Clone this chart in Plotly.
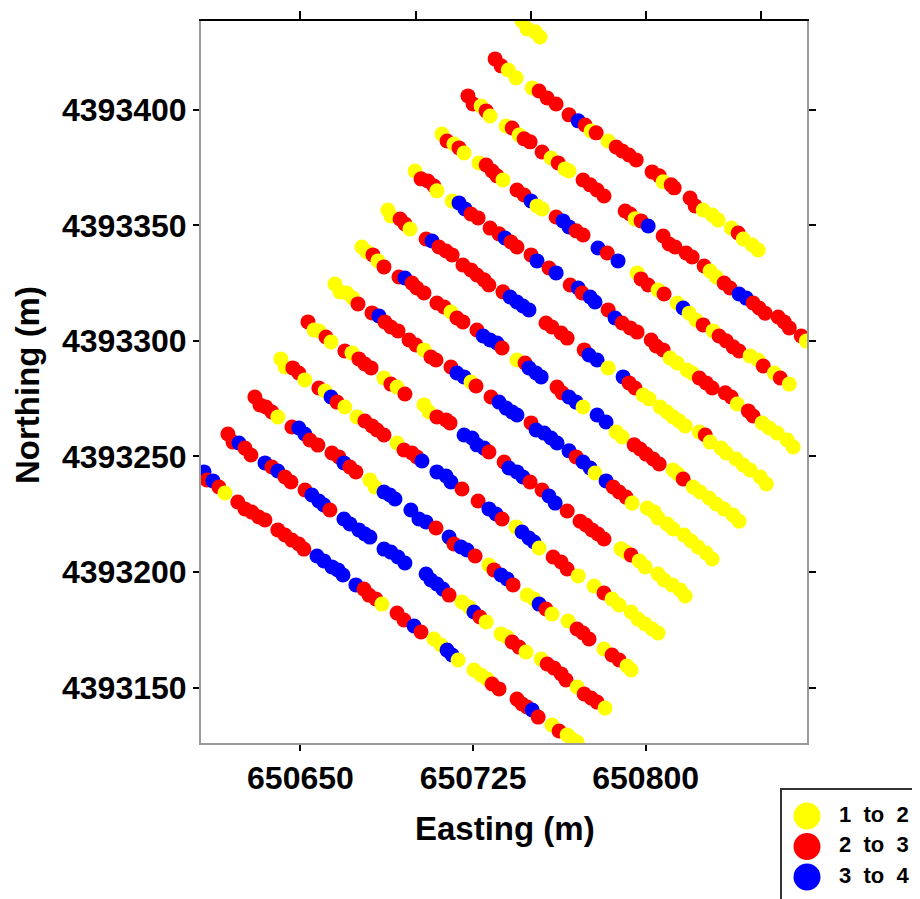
import plotly.graph_objects as go

# Class codes: Y = "1 to 2", R = "2 to 3", B = "3 to 4"
line01_e = [650746.3, 650748.5, 650752.0, 650754.1]
line01_n = [4393438.4, 4393435.0, 4393433.7, 4393431.5]
line01_c = "YYYY"

line02_e = [650734.6, 650737.2, 650740.3, 650743.7, 650750.7, 650753.7, 650757.2, 650761.1, 650766.7, 650770.7,
            650773.7, 650776.3, 650778.5, 650783.7, 650787.2, 650789.8, 650792.8, 650795.9, 650802.8, 650805.9,
            650807.6, 650811.1, 650812.4, 650819.3, 650821.5, 650825.0, 650828.9, 650831.5, 650837.2, 650840.2,
            650842.4, 650846.3, 650848.9]
line02_n = [4393422.0, 4393419.0, 4393417.2, 4393413.8, 4393409.4, 4393408.1, 4393405.1, 4393402.5, 4393397.8, 4393395.2,
            4393393.4, 4393390.8, 4393390.0, 4393386.5, 4393383.9, 4393382.2, 4393380.4, 4393378.3, 4393373.1, 4393371.4,
            4393368.8, 4393367.5, 4393366.2, 4393361.8, 4393358.4, 4393356.6, 4393354.5, 4393352.3, 4393348.8, 4393346.7,
            4393344.1, 4393341.5, 4393339.3]
line02_c = "RRYYY RRRRB RYRYR RRRRR YRRRR YYYYR YYY"

line03_e = [650722.8, 650725.0, 650728.5, 650730.7, 650732.4, 650739.4, 650742.0, 650745.0, 650747.2, 650749.8,
            650755.0, 650758.9, 650762.0, 650765.0, 650766.7, 650772.8, 650775.9, 650778.9, 650781.9, 650791.1,
            650793.3, 650795.4, 650798.0, 650801.1, 650807.6, 650810.2, 650812.8, 650817.6, 650820.2, 650825.4,
            650828.0, 650830.7, 650834.1, 650836.7, 650840.6, 650843.7, 650846.7, 650849.3, 650851.9, 650857.6,
            650860.2, 650862.4, 650867.6, 650869.8]
line03_n = [4393406.0, 4393402.5, 4393401.6, 4393399.5, 4393397.3, 4393393.0, 4393392.1, 4393389.1, 4393387.4, 4393386.1,
            4393381.7, 4393379.1, 4393377.0, 4393374.4, 4393373.5, 4393369.6, 4393367.5, 4393365.3, 4393362.7, 4393356.2,
            4393354.9, 4393352.8, 4393351.9, 4393349.7, 4393345.4, 4393341.9, 4393340.6, 4393338.0, 4393336.3, 4393332.4,
            4393330.2, 4393327.6, 4393325.0, 4393322.9, 4393320.3, 4393318.5, 4393316.4, 4393314.2, 4393312.0, 4393310.3,
            4393308.2, 4393305.6, 4393302.1, 4393299.9]
line03_c = "RRYRY YRYRR RYRYY RRRRR RYRBR RRRRR YYRRB BRRRR RRRY"

line04_e = [650711.5, 650713.7, 650716.7, 650718.9, 650721.1, 650727.6, 650730.7, 650733.3, 650735.4, 650738.0,
            650744.1, 650747.2, 650750.2, 650752.8, 650755.0, 650761.1, 650764.1, 650766.7, 650769.8, 650772.8,
            650779.3, 650783.3, 650788.0, 650796.3, 650798.0, 650801.1, 650805.4, 650808.0, 650813.7, 650816.3,
            650818.9, 650821.9, 650825.0, 650829.3, 650831.9, 650835.0, 650838.0, 650840.6, 650845.4, 650848.9,
            650851.1, 650855.9, 650858.5, 650862.4]
line04_n = [4393389.5, 4393386.5, 4393385.2, 4393383.5, 4393381.3, 4393377.0, 4393376.1, 4393373.5, 4393371.4, 4393369.6,
            4393365.3, 4393363.1, 4393360.5, 4393358.4, 4393357.1, 4393353.6, 4393351.9, 4393349.3, 4393347.6, 4393345.8,
            4393340.2, 4393338.0, 4393334.6, 4393329.4, 4393326.8, 4393324.2, 4393322.0, 4393320.3, 4393316.4, 4393314.2,
            4393312.0, 4393309.0, 4393306.9, 4393304.3, 4393302.1, 4393300.0, 4393297.4, 4393295.6, 4393293.5, 4393291.7,
            4393289.1, 4393286.1, 4393283.9, 4393281.3]
line04_c = "YRYRY YRRRY RRBYY RBBRR BRBYR RYRYB YYRYR RRRYY RYRY"

line05_e = [650699.8, 650702.4, 650705.4, 650708.0, 650709.3, 650715.9, 650718.9, 650721.5, 650724.1, 650727.2,
            650732.4, 650736.3, 650738.9, 650741.5, 650744.1, 650750.2, 650752.8, 650758.0, 650761.1, 650767.2,
            650770.7, 650772.4, 650775.9, 650778.0, 650783.7, 650786.7, 650789.8, 650793.3, 650796.3, 650802.4,
            650804.6, 650807.6, 650810.6, 650813.7, 650818.0, 650820.2, 650823.3, 650826.3, 650828.9, 650834.6,
            650837.2, 650839.8, 650844.6, 650846.7, 650850.6, 650853.7, 650857.2, 650861.5, 650864.1]
line05_n = [4393373.5, 4393370.1, 4393369.2, 4393367.0, 4393364.9, 4393360.5, 4393359.7, 4393357.1, 4393354.9, 4393353.2,
            4393348.8, 4393346.3, 4393344.5, 4393342.8, 4393340.6, 4393337.2, 4393334.6, 4393331.5, 4393329.4, 4393324.2,
            4393322.9, 4393320.7, 4393319.0, 4393316.8, 4393313.4, 4393309.9, 4393307.7, 4393305.6, 4393303.8, 4393300.4,
            4393297.8, 4393296.1, 4393292.6, 4393290.4, 4393287.4, 4393286.1, 4393283.9, 4393281.8, 4393279.6, 4393277.5,
            4393275.7, 4393272.7, 4393269.7, 4393267.5, 4393264.5, 4393262.3, 4393260.1, 4393257.1, 4393254.1]
line05_c = "YRRRY YBBRR RRBRR RBRBR BRBBR BRRRR RRYYY YRRRR RYRRY YYYY"

line06_e = [650688.0, 650689.3, 650693.3, 650695.4, 650697.6, 650704.6, 650707.2, 650710.2, 650713.3, 650715.9,
            650720.6, 650724.1, 650726.7, 650729.8, 650731.9, 650738.0, 650741.1, 650744.1, 650746.7, 650749.3,
            650756.7, 650759.3, 650763.3, 650765.9, 650773.3, 650775.4, 650778.9, 650783.7, 650790.2, 650792.8,
            650795.4, 650798.9, 650801.5, 650806.3, 650809.3, 650811.9, 650814.6, 650817.2, 650823.3, 650825.9,
            650828.0, 650832.8, 650835.0, 650839.3, 650842.4, 650845.4, 650849.8, 650852.4]
line06_n = [4393356.6, 4393354.0, 4393352.7, 4393350.6, 4393348.4, 4393344.1, 4393343.2, 4393340.6, 4393338.9, 4393337.2,
            4393332.8, 4393330.7, 4393328.5, 4393326.4, 4393324.2, 4393321.2, 4393319.0, 4393316.8, 4393315.1, 4393313.4,
            4393307.7, 4393306.0, 4393303.4, 4393301.2, 4393296.1, 4393293.9, 4393291.7, 4393288.3, 4393284.4, 4393281.8,
            4393279.6, 4393276.6, 4393274.9, 4393271.4, 4393269.2, 4393267.1, 4393265.3, 4393263.2, 4393260.6, 4393259.3,
            4393256.2, 4393253.6, 4393251.5, 4393248.9, 4393246.3, 4393244.1, 4393241.1, 4393238.1]
line06_c = "YYRRY RBRRR RRRRR RBBBB RRRRR BBYBR RYYYY YYYYR YYYYY YYY"

line07_e = [650676.7, 650678.9, 650681.5, 650683.7, 650686.3, 650692.8, 650695.4, 650698.5, 650700.6, 650703.7,
            650709.3, 650712.4, 650715.4, 650718.0, 650720.6, 650726.7, 650729.4, 650732.4, 650735.4, 650737.6,
            650744.1, 650747.6, 650749.3, 650752.4, 650754.6, 650761.5, 650763.7, 650766.7, 650769.8, 650772.8,
            650778.9, 650782.8, 650787.2, 650789.8, 650795.0, 650797.6, 650800.2, 650803.3, 650805.9, 650811.9,
            650814.1, 650816.3, 650820.6, 650823.7, 650827.6, 650830.7, 650834.1, 650838.0, 650840.6]
line07_n = [4393340.6, 4393338.5, 4393337.2, 4393334.6, 4393332.0, 4393327.6, 4393327.2, 4393325.0, 4393322.9, 4393320.7,
            4393316.4, 4393314.7, 4393312.5, 4393309.9, 4393308.2, 4393304.7, 4393302.1, 4393300.4, 4393299.1, 4393296.9,
            4393291.7, 4393290.4, 4393288.3, 4393286.1, 4393284.4, 4393280.0, 4393277.5, 4393275.7, 4393273.5, 4393271.4,
            4393267.9, 4393264.9, 4393260.6, 4393258.4, 4393255.0, 4393253.2, 4393251.0, 4393248.9, 4393246.7, 4393244.1,
            4393242.4, 4393240.2, 4393236.8, 4393234.6, 4393232.0, 4393229.4, 4393227.2, 4393224.6, 4393222.0]
line07_c = "YYRYR RBRRR RRYRR RBBBR YRBBB RRBBY BBYYR RRRRY YRYYY YYYY"

line08_e = [650665.0, 650667.2, 650670.2, 650672.8, 650675.0, 650681.1, 650684.1, 650686.7, 650689.3, 650692.4,
            650697.2, 650700.2, 650703.7, 650706.7, 650708.9, 650715.4, 650718.0, 650721.1, 650724.1, 650726.3,
            650732.8, 650736.3, 650739.4, 650742.0, 650744.1, 650750.2, 650752.4, 650755.9, 650758.9, 650761.5,
            650766.7, 650769.8, 650772.8, 650775.9, 650778.0, 650782.8, 650785.9, 650788.5, 650791.5, 650794.1,
            650800.7, 650803.7, 650805.4, 650809.3, 650811.9, 650816.7, 650819.8, 650822.8, 650826.3, 650828.9]
line08_n = [4393324.6, 4393321.2, 4393320.7, 4393318.5, 4393316.0, 4393312.1, 4393310.8, 4393308.2, 4393306.0, 4393304.3,
            4393300.4, 4393298.2, 4393296.1, 4393293.0, 4393291.7, 4393288.7, 4393286.1, 4393284.4, 4393282.2, 4393280.5,
            4393275.7, 4393273.5, 4393270.9, 4393269.2, 4393267.9, 4393264.5, 4393261.4, 4393260.1, 4393258.0, 4393255.8,
            4393252.4, 4393249.8, 4393247.6, 4393245.0, 4393242.8, 4393239.4, 4393236.8, 4393234.6, 4393232.4, 4393229.8,
            4393227.7, 4393225.9, 4393223.4, 4393220.8, 4393218.6, 4393216.0, 4393213.4, 4393210.8, 4393208.2, 4393205.6]
line08_c = "YYYYR RBRRR RRYRR RBBYR RBBBB RBBBB BRBBY BRRRY YYYYY YYYYY"

line09_e = [650653.3, 650655.9, 650658.0, 650661.1, 650663.3, 650669.3, 650672.4, 650675.4, 650678.0, 650680.7,
            650686.3, 650689.3, 650692.0, 650695.4, 650703.7, 650705.9, 650709.3, 650713.3, 650715.0, 650721.1,
            650724.6, 650726.7, 650729.8, 650731.9, 650738.5, 650740.6, 650744.1, 650746.7, 650749.8, 650755.0,
            650758.0, 650760.7, 650765.9, 650771.5, 650774.1, 650776.7, 650779.3, 650781.9, 650789.3, 650791.5,
            650793.7, 650797.2, 650799.8, 650805.4, 650808.0, 650811.5, 650815.0, 650817.2]
line09_n = [4393308.2, 4393304.7, 4393304.3, 4393301.7, 4393299.5, 4393295.6, 4393294.8, 4393292.2, 4393290.0, 4393288.3,
            4393283.9, 4393281.3, 4393280.0, 4393277.0, 4393272.3, 4393269.2, 4393267.1, 4393265.8, 4393264.5, 4393259.3,
            4393258.0, 4393255.0, 4393253.6, 4393251.9, 4393247.6, 4393245.0, 4393243.3, 4393241.1, 4393238.9, 4393235.5,
            4393232.9, 4393229.8, 4393226.4, 4393222.0, 4393220.3, 4393218.2, 4393216.4, 4393214.3, 4393210.0, 4393208.6,
            4393207.3, 4393204.8, 4393202.2, 4393199.1, 4393196.5, 4393194.4, 4393192.2, 4393189.6]
line09_c = "RYYRY RYRRR YRYRY YRRRB BBBRR BBBRR BBRRR RRRYY RYYYY YYY"

line10_e = [650641.5, 650643.3, 650646.7, 650649.3, 650651.9, 650658.0, 650660.7, 650663.3, 650665.9, 650669.3,
            650674.6, 650678.0, 650681.1, 650683.3, 650686.3, 650692.0, 650695.0, 650698.5, 650700.6, 650702.8,
            650709.3, 650713.3, 650715.4, 650720.2, 650727.2, 650731.9, 650735.0, 650737.6, 650743.7, 650746.3,
            650749.3, 650751.5, 650753.7, 650759.8, 650763.3, 650765.9, 650770.7, 650777.6, 650781.9, 650785.4,
            650788.5, 650793.7, 650796.7, 650799.8, 650802.8, 650805.4]
line10_n = [4393292.2, 4393288.7, 4393288.3, 4393286.1, 4393283.1, 4393279.6, 4393278.3, 4393275.7, 4393273.5, 4393271.4,
            4393267.1, 4393265.3, 4393263.2, 4393261.4, 4393259.3, 4393255.8, 4393252.8, 4393251.5, 4393249.8, 4393248.0,
            4393243.3, 4393241.5, 4393238.9, 4393235.9, 4393230.7, 4393227.3, 4393225.1, 4393222.9, 4393219.5, 4393217.3,
            4393214.7, 4393213.0, 4393210.4, 4393206.5, 4393204.3, 4393201.3, 4393198.3, 4393193.9, 4393190.9, 4393188.3,
            4393185.7, 4393182.7, 4393179.6, 4393177.5, 4393175.3, 4393173.6]
line10_c = "YYRRY RYBRY YRRRR YRRRB BBBRR BBRYB BBYRR RYYRY YYYYY Y"

line11_e = [650630.2, 650632.4, 650635.0, 650637.6, 650640.2, 650646.3, 650649.3, 650651.9, 650654.1, 650657.6,
            650663.7, 650666.7, 650668.9, 650671.5, 650674.1, 650680.2, 650682.4, 650686.3, 650688.9, 650691.1,
            650698.0, 650701.5, 650704.6, 650708.9, 650714.6, 650716.7, 650719.8, 650722.4, 650725.9, 650731.9,
            650734.1, 650737.2, 650739.8, 650742.4, 650748.5, 650751.5, 650753.7, 650756.7, 650759.3, 650766.3,
            650770.2, 650772.8, 650775.4, 650781.9, 650785.4, 650788.5, 650791.9, 650793.7]
line11_n = [4393275.7, 4393272.3, 4393271.4, 4393269.2, 4393267.1, 4393262.7, 4393262.3, 4393259.7, 4393257.1, 4393254.9,
            4393251.5, 4393249.8, 4393247.2, 4393245.4, 4393243.3, 4393239.8, 4393236.8, 4393234.6, 4393233.3, 4393231.6,
            4393226.8, 4393222.9, 4393221.6, 4393219.0, 4393215.1, 4393212.1, 4393210.8, 4393209.5, 4393206.9, 4393203.0,
            4393200.9, 4393198.7, 4393197.0, 4393194.4, 4393190.0, 4393188.3, 4393186.1, 4393184.0, 4393181.8, 4393178.8,
            4393175.3, 4393173.6, 4393171.0, 4393166.7, 4393164.1, 4393161.9, 4393159.3, 4393157.6]
line11_c = "RRRRY RBBRR RRBRR YYBBB BBBRB RBBRY RBBRY YBRYY RRRYR RYY"

line12_e = [650618.5, 650620.7, 650623.3, 650625.9, 650628.5, 650634.6, 650637.6, 650640.2, 650643.3, 650645.9,
            650652.0, 650655.0, 650658.0, 650660.2, 650662.8, 650668.9, 650671.5, 650675.4, 650678.0, 650680.2,
            650686.3, 650689.3, 650692.4, 650695.4, 650704.6, 650706.7, 650709.3, 650711.9, 650714.6, 650720.2,
            650723.3, 650725.4, 650728.0, 650730.7, 650737.2, 650739.8, 650742.0, 650745.0, 650748.0, 650754.6,
            650757.2, 650760.2, 650763.3, 650765.4, 650770.2, 650773.3, 650776.3, 650778.9, 650782.4]
line12_n = [4393259.7, 4393256.2, 4393255.8, 4393253.6, 4393250.6, 4393247.2, 4393245.4, 4393243.7, 4393241.1, 4393238.9,
            4393235.5, 4393233.3, 4393230.7, 4393229.0, 4393226.8, 4393222.9, 4393220.8, 4393218.2, 4393216.4, 4393215.1,
            4393209.9, 4393208.6, 4393206.5, 4393203.9, 4393199.1, 4393196.5, 4393194.8, 4393192.6, 4393190.0, 4393187.0,
            4393184.8, 4393182.7, 4393180.5, 4393178.4, 4393173.2, 4393171.9, 4393169.7, 4393167.5, 4393165.4, 4393162.3,
            4393160.2, 4393158.4, 4393155.9, 4393153.3, 4393150.2, 4393147.2, 4393145.5, 4393143.7, 4393141.1]
line12_c = "RRBRR BRBRR RBBBR BBBBB BBBB BBBBR YYBRY YYRRY YRRRR YRRRY"

line13_e = [650608.1, 650609.4, 650612.0, 650614.6, 650617.2, 650622.8, 650625.9, 650628.9, 650631.9, 650634.6,
            650640.2, 650643.3, 650646.3, 650649.3, 650651.5, 650657.2, 650660.2, 650663.7, 650666.3, 650668.5,
            650674.1, 650677.6, 650679.8, 650682.8, 650685.4, 650692.0, 650695.0, 650699.4, 650702.4, 650708.0,
            650711.1, 650713.7, 650715.9, 650718.5, 650725.4, 650728.5, 650731.1, 650733.3, 650736.3, 650744.1,
            650746.3, 650748.5, 650750.7, 650753.3, 650759.3, 650762.4, 650765.9, 650768.0, 650770.2]
line13_n = [4393243.3, 4393239.8, 4393239.4, 4393236.8, 4393234.2, 4393230.3, 4393227.3, 4393225.9, 4393223.8, 4393222.5,
            4393218.2, 4393216.0, 4393213.8, 4393212.1, 4393209.9, 4393206.9, 4393204.8, 4393202.2, 4393200.9, 4393198.7,
            4393194.4, 4393192.6, 4393190.0, 4393188.3, 4393186.1, 4393182.2, 4393179.2, 4393176.6, 4393174.0, 4393171.0,
            4393168.4, 4393166.2, 4393164.1, 4393161.9, 4393157.6, 4393155.4, 4393153.7, 4393151.5, 4393149.4, 4393145.0,
            4393142.9, 4393141.6, 4393140.3, 4393137.2, 4393133.8, 4393131.2, 4393129.5, 4393127.7, 4393126.4]
line13_c = "BRBRY RRRRR RRRRR BBBBB BRRRY RRBR YYBBY YYYRR RRRBR YRYYY"

class_labels = {"Y": "1  to  2", "R": "2  to  3", "B": "3  to  4"}
class_colors = {"Y": "#FFFF00", "R": "#FF0000", "B": "#0000FF"}
legend_order = ["Y", "R", "B"]

x_ticks_bottom = [650650, 650725, 650800]
x_ticks_top = [650650, 650700, 650750, 650800, 650850]
y_ticks = [4393150, 4393200, 4393250, 4393300, 4393350, 4393400]
x_range = [650606.8, 650870.1]
y_range = [4393126.0, 4393438.4]

lines = [
    (line01_e, line01_n, line01_c), (line02_e, line02_n, line02_c), (line03_e, line03_n, line03_c),
    (line04_e, line04_n, line04_c), (line05_e, line05_n, line05_c), (line06_e, line06_n, line06_c),
    (line07_e, line07_n, line07_c), (line08_e, line08_n, line08_c), (line09_e, line09_n, line09_c),
    (line10_e, line10_n, line10_c), (line11_e, line11_n, line11_c), (line12_e, line12_n, line12_c),
    (line13_e, line13_n, line13_c),
]

east, north, cls = [], [], []
for e, n, c in lines:
    c = c.replace(" ", "")
    assert len(e) == len(n) == len(c), (len(e), len(n), len(c))
    east += e
    north += n
    cls += list(c)

# The page body adds an 8px margin, so the figure is 8px smaller than the window
# and every layout position is expressed relative to the figure's own origin.
OFF = 8
W, H = 920 - OFF, 899 - OFF
L, R, T, B = 201 - OFF, 807 - OFF, 21 - OFF, 743 - OFF
LEG_L, LEG_T = 782 - OFF, 790 - OFF

FONT = "Liberation Sans, Arial, Helvetica, sans-serif"

fig = go.Figure()
fig.add_trace(go.Scatter(
    x=east, y=north, mode="markers",
    marker=dict(size=15, color=[class_colors[k] for k in cls], line=dict(width=0)),
    showlegend=False, hoverinfo="skip",
))
# carrier trace for the top/right decorative axes
fig.add_trace(go.Scatter(x=[None], y=[None], xaxis="x2", yaxis="y2", showlegend=False, hoverinfo="skip"))

# custom legend (large symbols)
leg_y = [H - LEG_T - 26 - 30.5 * i for i in range(len(legend_order))]
fig.add_trace(go.Scatter(
    x=[25] * len(legend_order), y=leg_y, mode="markers",
    marker=dict(size=27, color=[class_colors[k] for k in legend_order], line=dict(width=0)),
    xaxis="x3", yaxis="y3", showlegend=False, hoverinfo="skip", cliponaxis=False,
))
fig.add_trace(go.Scatter(
    x=[57] * len(legend_order), y=leg_y, mode="text",
    text=[class_labels[k].replace(" ", "\u00a0") for k in legend_order],
    textposition="middle right",
    textfont=dict(family=FONT, size=22, color="black", weight="bold"),
    xaxis="x3", yaxis="y3", showlegend=False, hoverinfo="skip", cliponaxis=False,
))

tickfont = dict(family=FONT, size=32, color="black", weight="bold")
xdom = [L / W, R / W]
ydom = [1 - B / H, 1 - T / H]

fig.update_layout(
    width=W, height=H,
    margin=dict(l=0, r=0, t=0, b=0),
    paper_bgcolor="white", plot_bgcolor="white",
    xaxis=dict(domain=xdom, range=x_range, tickvals=x_ticks_bottom, ticktext=[str(v) for v in x_ticks_bottom],
               ticks="outside", ticklen=6, tickwidth=1.5, tickcolor="black", tickfont=tickfont,
               showline=True, linecolor="#999999", linewidth=2, showgrid=False, zeroline=False,
               anchor="y", automargin=False),
    yaxis=dict(domain=ydom, range=y_range, tickvals=y_ticks, ticktext=[str(v) for v in y_ticks],
               ticks="outside", ticklen=6, tickwidth=1.5, tickcolor="black", tickfont=tickfont,
               showline=True, linecolor="#999999", linewidth=2, showgrid=False, zeroline=False,
               anchor="x", automargin=False),
    xaxis2=dict(overlaying="x", side="top", anchor="y", range=x_range, tickvals=x_ticks_top,
                ticks="outside", ticklen=8, tickwidth=1.5, tickcolor="black", showticklabels=False,
                showline=True, linecolor="black", linewidth=2, showgrid=False, zeroline=False),
    yaxis2=dict(overlaying="y", side="right", anchor="x", range=y_range, tickvals=y_ticks,
                ticks="outside", ticklen=7, tickwidth=1.5, tickcolor="black", showticklabels=False,
                showline=True, linecolor="#999999", linewidth=2, showgrid=False, zeroline=False),
    xaxis3=dict(domain=[LEG_L / W, 1.0], range=[0, W - LEG_L], anchor="y3", side="top",
                showline=True, linecolor="#333333", linewidth=1.5, showgrid=False, zeroline=False,
                showticklabels=False, ticks=""),
    yaxis3=dict(domain=[0, (H - LEG_T) / H], range=[0, H - LEG_T], anchor="x3", side="left",
                showline=True, linecolor="#333333", linewidth=1.5, showgrid=False, zeroline=False,
                showticklabels=False, ticks=""),
    showlegend=False,
    annotations=[
        dict(text="Easting (m)", x=(505 - OFF) / W, y=1 - (828 - OFF) / H, xref="paper", yref="paper",
             showarrow=False, xanchor="center", yanchor="middle",
             font=dict(family=FONT, size=33, color="black", weight="bold")),
        dict(text="Northing (m)", x=(28 - OFF) / W, y=1 - (385 - OFF) / H, xref="paper", yref="paper",
             showarrow=False, xanchor="center", yanchor="middle", textangle=-90,
             font=dict(family=FONT, size=33, color="black", weight="bold")),
    ],
)

fig.write_html("out.html")
